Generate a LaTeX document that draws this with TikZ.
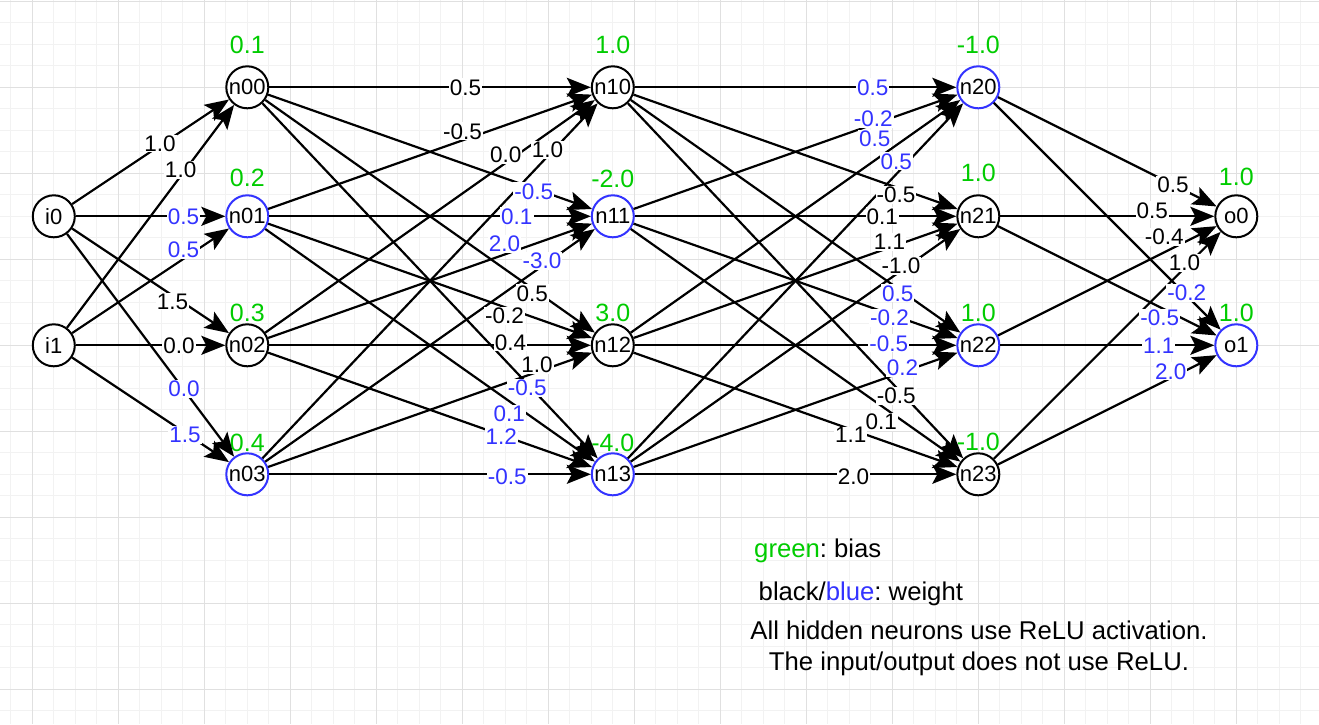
\documentclass[tikz,border=0pt]{standalone}
\usepackage{fontspec}
\setmainfont{Liberation Sans}
\usetikzlibrary{arrows.meta}
\definecolor{biasgreen}{RGB}{0,204,0}
\definecolor{wblue}{RGB}{51,51,255}
\definecolor{gridminor}{RGB}{242,242,242}
\definecolor{gridmajor}{RGB}{224,224,224}
\frenchspacing
\begin{document}
\begin{tikzpicture}[x=1pt,y=-1pt,
  neuron/.style={circle,draw=black,line width=2pt,minimum size=42pt,inner sep=0pt,fill=white,font=\fontsize{22}{22}\selectfont},
  blueneuron/.style={neuron,draw=wblue},
  edge/.style={line width=2.2pt,draw=black,-{Stealth[length=24pt,width=19pt,inset=5pt]}},
  wlab/.style={fill=white,inner sep=1pt,font=\fontsize{22.5}{22.5}\selectfont},
  biaslab/.style={text=biasgreen,inner sep=0pt,font=\fontsize{25}{25}\selectfont},
  legendtext/.style={inner sep=0pt,font=\fontsize{25.7}{30}\selectfont}]
\useasboundingbox (0,0) rectangle (1319,724);
\fill[white] (0,0) rectangle (1319,724);
% grid
\foreach \i in {0,...,60} \draw[gridminor,line width=1pt] ({10.8+21.5*\i},0) -- ({10.8+21.5*\i},724);
\foreach \i in {0,...,33} \draw[gridminor,line width=1pt] (0,{1.3+21.5*\i}) -- (1319,{1.3+21.5*\i});
\foreach \i in {0,...,14} \draw[gridmajor,line width=1pt] ({32.3+86*\i},0) -- ({32.3+86*\i},724);
\foreach \i in {0,...,8} \draw[gridmajor,line width=1pt] (0,{1.3+86*\i}) -- (1319,{1.3+86*\i});
% neurons
\node[neuron] (i0) at (53.8,216.3) {i0};
\node[neuron] (i1) at (53.8,345.3) {i1};
\node[neuron] (n00) at (247.3,87.3) {n00};
\node[blueneuron] (n01) at (247.3,216.3) {n01};
\node[neuron] (n02) at (247.3,345.3) {n02};
\node[blueneuron] (n03) at (247.3,474.3) {n03};
\node[neuron] (n10) at (612.8,87.3) {n10};
\node[blueneuron] (n11) at (612.8,216.3) {n11};
\node[neuron] (n12) at (612.8,345.3) {n12};
\node[blueneuron] (n13) at (612.8,474.3) {n13};
\node[blueneuron] (n20) at (978.3,87.3) {n20};
\node[neuron] (n21) at (978.3,216.3) {n21};
\node[blueneuron] (n22) at (978.3,345.3) {n22};
\node[neuron] (n23) at (978.3,474.3) {n23};
\node[neuron] (o0) at (1236.3,216.3) {o0};
\node[blueneuron] (o1) at (1236.3,345.3) {o1};
% biases
\node[biaslab] (b00) at (247.3,44.7) {0.1};
\node[biaslab] (b01) at (247.3,177.7) {0.2};
\node[biaslab] (b02) at (247.3,313.3) {0.3};
\node[biaslab] (b03) at (247.3,443.3) {0.4};
\node[biaslab] (b10) at (612.8,44.7) {1.0};
\node[biaslab] (b11) at (612.8,179) {-2.0};
\node[biaslab] (b12) at (612.8,313.3) {3.0};
\node[biaslab] (b13) at (612.8,443.3) {-4.0};
\node[biaslab] (b20) at (978.3,44.7) {-1.0};
\node[biaslab] (b21) at (978.3,173.3) {1.0};
\node[biaslab] (b22) at (978.3,313.3) {1.0};
\node[biaslab] (b23) at (978.3,441.7) {-1.0};
\node[biaslab] (bo0) at (1236.3,176.7) {1.0};
\node[biaslab] (bo1) at (1236.3,313.3) {1.0};
% connectors
\foreach \a in {i0,i1} \foreach \b in {n00,n01,n02,n03} \draw[edge] (\a) -- (\b);
\foreach \a in {n00,n01,n02,n03} \foreach \b in {n10,n11,n12,n13} \draw[edge] (\a) -- (\b);
\foreach \a in {n10,n11,n12,n13} \foreach \b in {n20,n21,n22,n23} \draw[edge] (\a) -- (\b);
\foreach \a in {n20,n21,n22,n23} \foreach \b in {o0,o1} \draw[edge] (\a) -- (\b);
% weight labels
\foreach \src/\dst/\ps/\wt/\col/\sh in {
 i0/n00/0.56/1.0/black/2,
 i1/n00/0.68/1.0/black/6,
 i0/n01/0.72/0.5/wblue/0,
 i1/n01/0.71/0.5/wblue/8.6,
 i0/n02/0.64/1.5/black/-6,
 i1/n02/0.69/0.0/black/0,
 i0/n03/0.70/0.0/wblue/1,
 i1/n03/0.72/1.5/wblue/-2,
 n00/n10/0.61/0.5/black/0,
 n01/n10/0.60/-0.5/black/9,
 n02/n10/0.73/0.0/black/8,
 n03/n10/0.85/1.0/black/6.6,
 n00/n11/0.82/-0.5/wblue/-3,
 n01/n11/0.77/0.1/wblue/0,
 n02/n11/0.73/2.0/wblue/10.7,
 n03/n11/0.84/-3.0/wblue/5.6,
 n00/n12/0.81/0.5/black/-5,
 n01/n12/0.73/-0.2/black/-9,
 n02/n12/0.75/0.4/black/3,
 n03/n12/0.83/1.0/black/7.5,
 n00/n13/0.79/-0.5/wblue/-4,
 n01/n13/0.74/0.1/wblue/-12.5,
 n02/n13/0.72/1.2/wblue/-2,
 n03/n13/0.74/-0.5/wblue/-2,
 n10/n20/0.74/0.5/wblue/0,
 n12/n20/0.74/0.5/wblue/21.7,
 n11/n20/0.74/-0.2/wblue/5.5,
 n13/n20/0.80/0.5/wblue/13,
 n10/n21/0.81/-0.5/black/-7.4,
 n11/n21/0.77/0.1/black/0,
 n12/n21/0.79/1.1/black/5.5,
 n13/n21/0.82/-1.0/black/5,
 n10/n22/0.81/0.5/wblue/-5,
 n11/n22/0.79/-0.2/wblue/-4,
 n12/n22/0.79/-0.5/wblue/2,
 n13/n22/0.83/0.2/wblue/4,
 n10/n23/0.80/-0.5/black/-8.5,
 n11/n23/0.76/0.1/black/-16,
 n12/n23/0.67/1.1/black/-6,
 n13/n23/0.68/2.0/black/-2,
 n20/o0/0.80/0.5/black/0,
 n21/o0/0.71/0.5/black/6,
 n22/o0/0.76/-0.4/black/15.7,
 n23/o0/0.84/1.0/black/5,
 n20/o1/0.85/-0.2/wblue/3,
 n21/o1/0.74/-0.5/wblue/-11,
 n22/o1/0.74/1.1/wblue/0,
 n23/o1/0.79/2.0/wblue/6.7}
 \path (\src) -- node[wlab,text=\col,pos=\ps,yshift=\sh pt] (w\src\dst) {\wt} (\dst);
% legend
\node[legendtext,anchor=base west] (lg1) at (754,557.3) {\textcolor{biasgreen}{green}: bias};
\node[legendtext,anchor=base west] (lg2) at (758.5,600) {black/\textcolor{wblue}{blue}: weight};
\node[legendtext,anchor=base] (lg3) at (979,639) {All hidden neurons use ReLU activation.};
\node[legendtext,anchor=base] (lg4) at (979,670.7) {The input/output does not use ReLU.};
\end{tikzpicture}
\end{document}
